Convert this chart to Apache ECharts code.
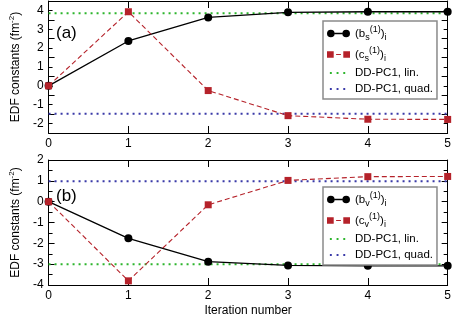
<!DOCTYPE html>
<html><head><meta charset="utf-8">
<script src="https://cdn.jsdelivr.net/npm/echarts@6/dist/echarts.min.js"></script>
<style>html,body{margin:0;padding:0;background:#fff}#c{width:454px;height:318px}</style>
</head><body><div id="c"></div>
<script>
var iterations = [0, 1, 2, 3, 4, 5];
var xTicks = ['0', '1', '2', '3', '4', '5'];
// panel (a)
var bS = [0, 2.38, 3.63, 3.9, 3.93, 3.93];
var cS = [0, 3.93, -0.25, -1.58, -1.77, -1.78];
var linA = 3.85;
var quadA = -1.48;
// panel (b)
var bV = [0, -1.76, -2.88, -3.06, -3.08, -3.08];
var cV = [0, -3.8, -0.15, 1.02, 1.2, 1.21];
var linB = -3.0;
var quadB = 0.98;

var FONT = 'Liberation Sans, Arial, Helvetica, sans-serif';
var RED = '#b5222a', GREEN = '#2db52d', BLUE = '#3a3aa8';

function pairs(vals){ return iterations.map(function(x,i){ return [x, vals[i]]; }); }
function hline(v){ return [[iterations[0], v], [iterations[iterations.length-1], v]]; }

var labels = {
  bs: '(b{sub|s}{sup|(1)}){sub|i}',
  cs: '(c{sub|s}{sup|(1)}){sub|i}',
  bv: '(b{sub|v}{sup|(1)}){sub|i}',
  cv: '(c{sub|v}{sup|(1)}){sub|i}',
  linA: 'DD-PC1, lin.', quadA: 'DD-PC1, quad.',
  linB: 'DD-PC1, lin.', quadB: 'DD-PC1, quad.'
};
var iconBlack = 'path://M0,4A4,4 0 1,0 8,4A4,4 0 1,0 0,4Z M8,3.3L16,3.3L16,4.7L8,4.7Z M16,4A4,4 0 1,0 24,4A4,4 0 1,0 16,4Z';
var iconRed = 'path://M0,0.5L7,0.5L7,7.5L0,7.5Z M9.5,3.5L14.5,3.5L14.5,4.6L9.5,4.6Z M17,0.5L24,0.5L24,7.5L17,7.5Z M0,0L0,0Z M24,8L24,8Z';
var iconDot = 'path://M3,3L5,3L5,5L3,5Z M10,3L12,3L12,5L10,5Z M17,3L19,3L19,5L17,5Z M0,0L0,0Z M24,8L24,8Z';

var rich = {
  sub: {fontSize: 9, fontFamily: FONT, color: '#000', padding: [8,0,0,0]},
  sup: {fontSize: 9, fontFamily: FONT, color: '#000', padding: [0,0,8,0]}
};

function legendFor(top, names){
  return {
    orient: 'vertical', left: 323, top: top, width: 114,
    backgroundColor: '#fff', borderColor: '#8a8a8a', borderWidth: 1.5, borderRadius: 0,
    padding: [4, 4, 4, 4], itemGap: 4, itemWidth: 23, itemHeight: 8,
    selectedMode: false,
    textStyle: {fontFamily: FONT, fontSize: 11.5, color: '#000', rich: rich},
    formatter: function(n){ return labels[n]; },
    data: [
      {name: names[0], icon: iconBlack, itemStyle: {color: '#000'}},
      {name: names[1], icon: iconRed, itemStyle: {color: RED}},
      {name: names[2], icon: iconDot, itemStyle: {color: GREEN}},
      {name: names[3], icon: iconDot, itemStyle: {color: BLUE}}
    ]
  };
}

function xAx(gi, showLabels, name){
  return [{
    type: 'value', gridIndex: gi, min: 0, max: 5, interval: 1, position: 'bottom',
    axisLine: {onZero: false, lineStyle: {color: '#000', width: 1}},
    axisTick: {inside: true, length: 7, lineStyle: {color: '#000'}},
    axisLabel: {show: showLabels, color: '#000', fontFamily: FONT, fontSize: 12, margin: 5,
      formatter: function(v){ return xTicks[Math.round(v)]; }},
    splitLine: {show: false},
    name: name || '', nameLocation: 'middle', nameGap: 20,
    nameTextStyle: {color: '#000', fontFamily: FONT, fontSize: 12}
  }, {
    type: 'value', gridIndex: gi, min: 0, max: 5, interval: 1, position: 'top',
    axisLine: {onZero: false, lineStyle: {color: '#000', width: 1}},
    axisTick: {inside: true, length: 7, lineStyle: {color: '#000'}},
    axisLabel: {show: false}, splitLine: {show: false}
  }];
}
function yAx(gi, min, max, ticks){
  return [{
    type: 'value', gridIndex: gi, min: min, max: max, interval: 1, position: 'left',
    axisLine: {onZero: false, lineStyle: {color: '#000', width: 1}},
    axisTick: {inside: true, length: 6, lineStyle: {color: '#000'}},
    minorTick: {show: true, splitNumber: 2, length: 4, lineStyle: {color: '#000'}},
    axisLabel: {color: '#000', fontFamily: FONT, fontSize: 12, margin: 5,
      customValues: ticks.map(Number),
      formatter: function(v){ return String(Math.round(v)); }},
    splitLine: {show: false},
    name: 'EDF constants (fm{sup|-2})', nameLocation: 'middle', nameRotate: 90, nameGap: 22,
    nameTextStyle: {color: '#000', fontFamily: FONT, fontSize: 12,
      rich: {sup: {fontSize: 8, fontFamily: FONT, color: '#000', padding: [0,0,8,0]}}}
  }, {
    type: 'value', gridIndex: gi, min: min, max: max, interval: 1, position: 'right',
    axisLine: {onZero: false, lineStyle: {color: '#000', width: 1}},
    axisTick: {inside: true, length: 6, lineStyle: {color: '#000'}},
    minorTick: {show: true, splitNumber: 2, length: 4, lineStyle: {color: '#000'}},
    axisLabel: {show: false}, splitLine: {show: false}
  }];
}

var yTicksA = ['-2', '-1', '0', '1', '2', '3', '4'];
var yTicksB = ['-4', '-3', '-2', '-1', '0', '1', '2'];

function dotted(name, xi, yi, v, color){
  return {name: name, type: 'line', xAxisIndex: xi, yAxisIndex: yi, data: hline(v),
    showSymbol: false, symbol: 'none', silent: true, z: 1,
    lineStyle: {color: color, width: 2, type: [2, 4]}, itemStyle: {color: color}};
}
function solid(name, xi, yi, vals){
  return {name: name, type: 'line', xAxisIndex: xi, yAxisIndex: yi, data: pairs(vals),
    symbol: 'circle', symbolSize: 8, z: 3,
    lineStyle: {color: '#000', width: 1.3}, itemStyle: {color: '#000'}};
}
function dashed(name, xi, yi, vals){
  return {name: name, type: 'line', xAxisIndex: xi, yAxisIndex: yi, data: pairs(vals),
    symbol: 'rect', symbolSize: 7, z: 4,
    lineStyle: {color: RED, width: 1.1, type: [5, 3]}, itemStyle: {color: RED}};
}

var chart = echarts.init(document.getElementById('c'), null, {renderer: 'canvas'});
chart.setOption({
  animation: false,
  backgroundColor: '#fff',
  title: [
    {text: '(a)', left: 51, top: 20, textStyle: {fontFamily: FONT, fontSize: 17, fontWeight: 'normal', color: '#000'}},
    {text: '(b)', left: 51, top: 183, textStyle: {fontFamily: FONT, fontSize: 17, fontWeight: 'normal', color: '#000'}}
  ],
  grid: [
    {left: 34, top: 1, width: 418, height: 132, containLabel: false},
    {left: 34, top: 160, width: 418, height: 131, containLabel: false}
  ],
  xAxis: xAx(0, true).concat(xAx(1, true, 'Iteration number')),
  yAxis: yAx(0, -2.5, 4.5, yTicksA).concat(yAx(1, -4, 2, yTicksB)),
  legend: [legendFor(21, ['bs', 'cs', 'linA', 'quadA']), legendFor(187, ['bv', 'cv', 'linB', 'quadB'])],
  series: [
    dotted('linA', 0, 0, linA, GREEN),
    dotted('quadA', 0, 0, quadA, BLUE),
    solid('bs', 0, 0, bS),
    dashed('cs', 0, 0, cS),
    dotted('linB', 2, 2, linB, GREEN),
    dotted('quadB', 2, 2, quadB, BLUE),
    solid('bv', 2, 2, bV),
    dashed('cv', 2, 2, cV)
  ]
});
</script></body></html>
